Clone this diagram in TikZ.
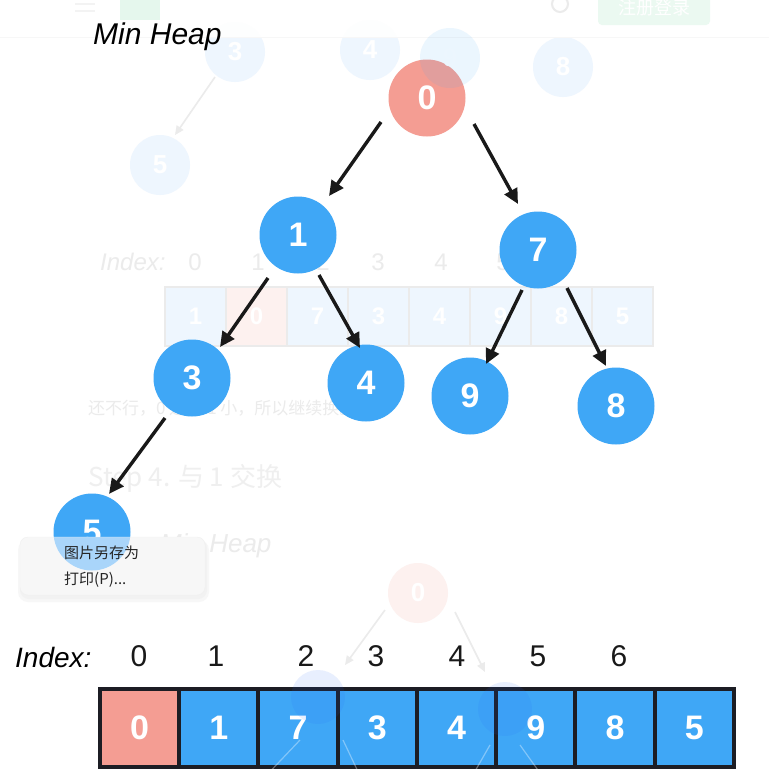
\documentclass[tikz,border=0pt]{standalone}
\usepackage{fontspec}
\setmainfont{Liberation Sans}
\newfontfamily\cjk{Noto Sans CJK SC}
\usetikzlibrary{arrows.meta,shadows}
\definecolor{heapblue}{HTML}{3FA7F6}
\definecolor{heapred}{HTML}{F49D93}
\definecolor{cellline}{HTML}{1C1D24}
\definecolor{ghostblue}{HTML}{EEF6FE}
\definecolor{ghostpink}{HTML}{FDF1EF}
\definecolor{ghostgray}{HTML}{EBEBEB}
\definecolor{menublue}{HTML}{A9D5FA}
\tikzset{
  heapnode/.style={circle,fill=heapblue,minimum size=77pt,inner sep=0pt,text=white,font=\fontsize{34}{34}\selectfont\bfseries},
  rootnode/.style={heapnode,fill=heapred},
  ghostnode/.style={circle,fill=ghostblue,minimum size=60pt,inner sep=0pt,text=white,font=\fontsize{26}{26}\selectfont\bfseries},
  arr/.style={line width=3.4pt,draw=black!90,-{Triangle[length=15pt,width=14pt]}},
  ghostarr/.style={line width=1.6pt,draw=ghostgray,-{Triangle[length=9pt,width=8pt]}},
  cell/.style={draw=cellline,line width=4pt,fill=heapblue,minimum width=79.25pt,minimum height=78pt,inner sep=0pt,text=white,font=\fontsize{34}{34}\selectfont\bfseries},
  ghostcell/.style={draw=ghostgray,line width=2pt,fill=ghostblue,minimum width=61pt,minimum height=59pt,inner sep=0pt,text=white,font=\fontsize{24}{24}\selectfont\bfseries},
  idx/.style={font=\fontsize{30}{30}\selectfont,text=black!90,inner sep=0pt},
  ghostidx/.style={font=\fontsize{24}{24}\selectfont,text=ghostgray,inner sep=0pt},
  hand/.style={font=\fontsize{30}{30}\selectfont\itshape,text=black,inner sep=0pt},
  menutext/.style={font=\cjk\fontsize{15}{15}\selectfont,text=black!85,anchor=west,inner sep=0pt}
}
\begin{document}
\begin{tikzpicture}[x=1pt,y=1pt]
\useasboundingbox (0,0) rectangle (769,-780);
\fill[white] (0,0) rectangle (769,-780);
% ---- faint background (ghost) content ----
\node[ghostnode] (g3) at (235,-52) {3};
\node[ghostnode] (g4) at (370,-50) {4};
\node[ghostnode] (g8) at (563,-67) {8};
\node[ghostnode] (g5) at (160,-165) {5};
\draw[ghostarr] ([shift={(-20,-25)}]g3.center) -- ([shift={(15,30)}]g5.center);
% header bar over the faint circles
\fill[white,opacity=0.92] (0,0) rectangle (769,-37);
\draw[ghostgray!40,line width=1pt] (0,-37) -- (769,-37);
\fill[ghostgray!60] (75,-3) rectangle (95,-5);
\fill[ghostgray!60] (75,-10) rectangle (95,-12);
\fill[green!40!teal!10] (120,0) rectangle (160,-20);
\draw[ghostgray,line width=2pt] (560,-4) circle (8pt);
\fill[green!40!teal!8,rounded corners=4pt] (598,4) rectangle (710,-25);
\node[text=white,font=\cjk\fontsize{18}{18}\selectfont] (btn) at (654,-8) {注册登录};
\node[ghostidx,anchor=west,font=\fontsize{24}{24}\selectfont\itshape] (gidx) at (100,-262) {Index:};
\foreach \d/\x in {0/195,1/258,2/323,3/378,4/441,5/503,6/567}
  \node[ghostidx] (gi\d) at (\x,-262) {\d};
\foreach \v [count=\i from 0] in {1,0,7,3,4,9,8,5}
  \node[ghostcell] (gc\i) at (195.5+61*\i,-316.5) {\v};
\node[ghostcell,fill=ghostpink] at (gc1) {0};
\node[anchor=west,inner sep=0pt,text=ghostgray,font=\cjk\fontsize{17}{17}\selectfont] (gt1) at (88,-408) {还不行，0 还比 1 小，所以继续换。};
\node[anchor=west,inner sep=0pt,text=ghostgray!80,font=\cjk\fontsize{26}{26}\selectfont] (gt2) at (88,-478) {Step 4. 与 1 交换};
\node[anchor=west,inner sep=0pt,text=ghostgray,font=\fontsize{26}{26}\selectfont\itshape] (gt3) at (160,-546) {Min Heap};
\node[ghostnode,fill=ghostpink] (g0) at (418,-593) {0};
\draw[ghostarr] ([shift={(-33,-17)}]g0.center) -- ([shift={(-73,-72)}]g0.center);
\draw[ghostarr] ([shift={(37,-19)}]g0.center) -- ([shift={(67,-79)}]g0.center);
% ---- main tree ----
\node[rootnode] (n0) at (427,-98) {0};
\node[ghostnode,fill=heapblue,opacity=0.1] (g9) at (450,-58) {};
\node[ghostnode,fill=none,text=white!90!heapblue] at (450,-58) {9};
\node[heapnode] (n1) at (298,-235) {1};
\node[heapnode] (n7) at (538,-250) {7};
\node[heapnode] (n3) at (192,-378) {3};
\node[heapnode] (n4) at (366,-383) {4};
\node[heapnode] (n9) at (470,-396) {9};
\node[heapnode] (n8) at (616,-406) {8};
\node[heapnode] (n5) at (92,-532) {5};
\draw[arr] ([shift={(-46,-24)}]n0.center) -- ([shift={(31,39)}]n1.center);
\draw[arr] ([shift={(47,-26)}]n0.center) -- ([shift={(-20,46)}]n7.center);
\draw[arr] ([shift={(-30,-43)}]n1.center) -- ([shift={(28,31)}]n3.center);
\draw[arr] ([shift={(21,-40)}]n1.center) -- ([shift={(-6,35)}]n4.center);
\draw[arr] ([shift={(-16,-40)}]n7.center) -- ([shift={(16,32)}]n9.center);
\draw[arr] ([shift={(29,-38)}]n7.center) -- ([shift={(-10,40)}]n8.center);
\draw[arr] ([shift={(-27,-40)}]n3.center) -- ([shift={(17,38)}]n5.center);
\node[hand,anchor=west] (title) at (93,-37) {Min Heap};
% ---- context menu ----
\fill[black!3,rounded corners=10pt] (18,-540) rectangle (209,-602);
\fill[black!5,rounded corners=9pt] (20,-539) rectangle (207,-599);
\fill[white!97!black,rounded corners=8pt] (20,-537) rectangle (205,-595);
\begin{scope}
  \clip[rounded corners=8pt] (20,-537) rectangle (205,-595);
  \fill[menublue] (92,-532) circle (38.5);
\end{scope}
\draw[black!6,rounded corners=8pt] (20,-537) rectangle (205,-595);
\node[menutext] (m1) at (64,-553) {图片另存为};
\node[menutext] (m2) at (64,-580) {打印(P)...};
% ---- array ----
\node[hand,anchor=west,font=\fontsize{28}{28}\selectfont\itshape] (idxlabel) at (15,-657) {Index:};
\foreach \d/\x in {0/139,1/216,2/306,3/376,4/457,5/538,6/619}
  \node[idx] (i\d) at (\x,-656) {\d};
\foreach \v [count=\i from 0] in {0,1,7,3,4,9,8,5}
  \node[cell] (c\i) at (139.6+79.25*\i,-728) {\v};
\node[cell,fill=heapred] at (c0) {0};
% ghost circles over the array
\fill[heapblue!60!blue,opacity=0.1] (318,-697) circle (27pt);
\fill[heapblue!60!blue,opacity=0.1] (505,-709) circle (27pt);
\draw[white,opacity=0.35,line width=1.2pt] (300,-740) -- (262,-780);
\draw[white,opacity=0.35,line width=1.2pt] (343,-740) -- (362,-780);
\draw[white,opacity=0.35,line width=1.2pt] (490,-745) -- (470,-780);
\draw[white,opacity=0.35,line width=1.2pt] (520,-745) -- (545,-780);
\end{tikzpicture}
\end{document}
